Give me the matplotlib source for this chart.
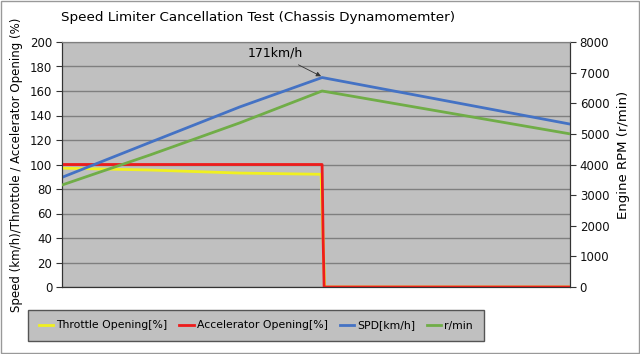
import matplotlib
matplotlib.use("Agg")
import matplotlib.pyplot as plt
from matplotlib.patches import Rectangle

plt.rcParams["font.family"] = ["DejaVu Sans"]

# ---- data ----
spd_t = [0, 17.3, 35.0, 51.2, 100]
spd = [89.5, 118, 147, 171, 133]
rpm_t = [0, 17.3, 35.0, 51.2, 100]
rpm = [3330, 4310, 5360, 6400, 5000]
thr_t = [0, 17.3, 35.0, 51.0, 51.7, 100]
thr = [97, 95.5, 93, 92, 0, 0]
acc_t = [0, 51.2, 51.4, 51.6, 100]
acc = [100, 100, 40, 0, 0]

left_ticks = list(range(0, 201, 20))
right_ticks = list(range(0, 8001, 1000))

FS = 8.5

fig = plt.figure(figsize=(6.4, 3.54), dpi=100)
fig.patch.set_facecolor("white")
ax = fig.add_axes([62/640, 1-287/354, 508/640, 245/354])
ax.set_facecolor("#c0c0c0")
ax2 = ax.twinx()

ax.plot(thr_t, thr, color="#f0f020", lw=2, label="Throttle Opening[%]", zorder=3)
ax.plot(acc_t, acc, color="#ee1c1c", lw=2, label="Accelerator Opening[%]", zorder=4)
ax.plot(spd_t, spd, color="#4472c4", lw=2, label="SPD[km/h]", zorder=5)
ax2.plot(rpm_t, rpm, color="#70ad47", lw=2, label="r/min", zorder=5)

ax.set_xlim(0, 100)
ax.set_ylim(0, 200)
ax2.set_ylim(0, 8000)
ax.set_yticks(left_ticks)
ax2.set_yticks(right_ticks)
ax.set_xticks([])
ax.yaxis.grid(True, color="#7f7f7f", lw=1)
ax.set_axisbelow(True)

for a in (ax, ax2):
    a.tick_params(axis="y", labelsize=FS, color="#333333", labelcolor="#111111",
                  length=4, width=0.8, pad=3)
    for s in a.spines.values():
        s.set_color("#333333")
    a.spines["top"].set_color("#7f7f7f")

fig.text(17/640, 1-165/354, "Speed (km/h)/Throttole / Accelerator Opening (%)",
         rotation=90, fontsize=8.5, ha="center", va="center")
fig.text(623/640, 1-155/354, "Engine RPM (r/min)", rotation=90, fontsize=9.5,
         ha="center", va="center")
fig.text(258/640, 1-18/354, "Speed Limiter Cancellation Test (Chassis Dynamomemter)",
         fontsize=9.7, ha="center", va="center")

ax.annotate("171km/h", xy=(51.0, 172), xytext=(47.4, 191), fontsize=9,
            ha="right", va="center",
            arrowprops=dict(arrowstyle="-|>", color="#333333", lw=0.6, mutation_scale=7,
                            shrinkA=4, shrinkB=0))

h1, l1 = ax.get_legend_handles_labels()
h2, l2 = ax2.get_legend_handles_labels()
leg = fig.legend(h1 + h2, l1 + l2, loc="center", bbox_to_anchor=(256/640, 1-325.5/354),
                 ncol=4, fontsize=7.8, frameon=True, fancybox=False,
                 handlelength=1.3, handletextpad=0.3, columnspacing=1.1, borderpad=1.0)
leg.get_frame().set_facecolor("#c0c0c0")
leg.get_frame().set_edgecolor("#555555")
leg.get_frame().set_alpha(1)

fig.patches.append(Rectangle((0.002, 0.003), 0.996, 0.994, transform=fig.transFigure,
                             fill=False, edgecolor="#999999", lw=1))

fig.savefig("out.png", dpi=100)
